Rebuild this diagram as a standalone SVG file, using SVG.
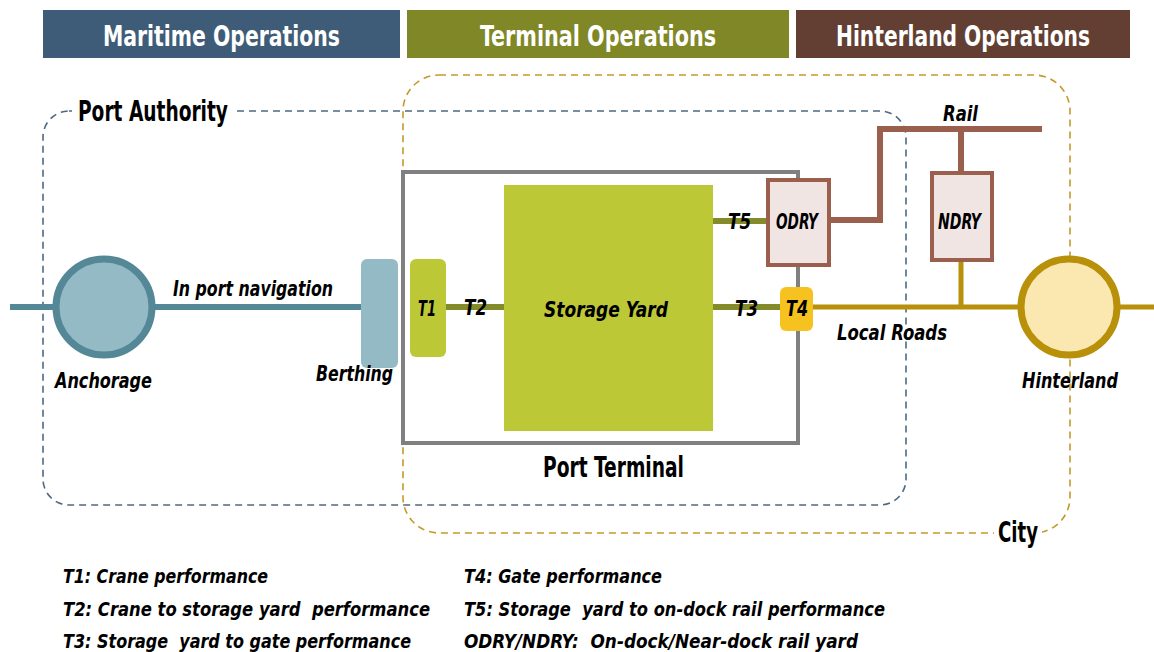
<svg xmlns="http://www.w3.org/2000/svg" width="1154" height="652" viewBox="0 0 1154 652">
<style>
text{font-family:"DejaVu Sans Condensed","DejaVu Sans",sans-serif;font-weight:bold;font-stretch:condensed;}
.hdr{fill:#ffffff;font-size:28px;}
.big{fill:#000;font-size:29px;}
.lab{fill:#000;font-size:22px;font-style:italic;}
.leg{fill:#000;font-size:20px;font-style:italic;}
.dashPA{fill:none;stroke:#4d6a85;stroke-width:1.6;stroke-dasharray:7 5;}
.dashCity{fill:none;stroke:#c49a2a;stroke-width:1.6;stroke-dasharray:7 5;}
</style>
<rect width="1154" height="652" fill="#ffffff"/>

<g id="header-maritime">
<rect x="43" y="10" width="357" height="48" fill="#3e5c78"/>
<text class="hdr" x="103" y="46" textLength="237" lengthAdjust="spacingAndGlyphs">Maritime Operations</text>
</g>
<g id="header-terminal">
<rect x="407" y="10" width="382" height="48" fill="#7f8727"/>
<text class="hdr" x="480" y="46" textLength="236" lengthAdjust="spacingAndGlyphs">Terminal Operations</text>
</g>
<g id="header-hinterland">
<rect x="796" y="10" width="334" height="48" fill="#633f33"/>
<text class="hdr" x="836" y="46" textLength="254" lengthAdjust="spacingAndGlyphs">Hinterland Operations</text>
</g>

<g id="city-region">
<rect class="dashCity" x="403" y="75" width="667" height="458" rx="36" ry="36"/>
<rect x="994" y="516" width="48" height="30" fill="#ffffff"/>
<text class="big" x="998" y="542" textLength="40" lengthAdjust="spacingAndGlyphs">City</text>
</g>

<g id="port-authority-region">
<rect class="dashPA" x="43" y="111" width="863" height="394" rx="26" ry="26"/>
<rect x="72" y="96" width="162" height="30" fill="#ffffff"/>
<text class="big" x="78" y="121" textLength="150" lengthAdjust="spacingAndGlyphs">Port Authority</text>
</g>

<g id="port-terminal">
<rect x="403" y="172" width="395" height="271" fill="none" stroke="#808080" stroke-width="4"/>
<text class="big" x="543" y="477" textLength="141" lengthAdjust="spacingAndGlyphs">Port Terminal</text>
</g>

<g id="connectors">
<line x1="10" y1="307" x2="362" y2="307" stroke="#548896" stroke-width="6"/>
<line x1="446" y1="307" x2="504" y2="307" stroke="#838b2b" stroke-width="6"/>
<line x1="713" y1="307" x2="781" y2="307" stroke="#838b2b" stroke-width="6"/>
<line x1="713" y1="221" x2="767" y2="221" stroke="#838b2b" stroke-width="6"/>
<polyline points="830,220 880,220 880,129 1042,129" fill="none" stroke="#9b5f4d" stroke-width="6"/>
<line x1="961" y1="129" x2="961" y2="173" stroke="#9b5f4d" stroke-width="6"/>
<line x1="812" y1="307" x2="1020" y2="307" stroke="#b8900a" stroke-width="5"/>
<line x1="961" y1="260" x2="961" y2="307" stroke="#b8900a" stroke-width="5"/>
<line x1="1118" y1="307" x2="1154" y2="307" stroke="#b8900a" stroke-width="5"/>
<text class="lab" x="173" y="296" textLength="160" lengthAdjust="spacingAndGlyphs">In port navigation</text>
<text class="lab" x="464" y="315" textLength="23" lengthAdjust="spacingAndGlyphs">T2</text>
<text class="lab" x="735" y="316" textLength="23" lengthAdjust="spacingAndGlyphs">T3</text>
<text class="lab" x="728" y="229" textLength="23" lengthAdjust="spacingAndGlyphs">T5</text>
<text class="lab" x="943" y="121" textLength="35" lengthAdjust="spacingAndGlyphs">Rail</text>
<text class="lab" x="837" y="340" textLength="110" lengthAdjust="spacingAndGlyphs">Local Roads</text>
</g>

<g id="anchorage">
<circle cx="104" cy="307" r="48" fill="#94bac5" stroke="#548896" stroke-width="7"/>
<text class="lab" x="55" y="388" textLength="97" lengthAdjust="spacingAndGlyphs">Anchorage</text>
</g>

<g id="berthing">
<rect x="361" y="259" width="37" height="109" rx="6" ry="6" fill="#94bac5"/>
<text class="lab" x="316" y="381" textLength="77" lengthAdjust="spacingAndGlyphs">Berthing</text>
</g>

<g id="t1">
<rect x="410" y="259" width="36" height="98" rx="6" ry="6" fill="#bdc837"/>
<text class="lab" x="418" y="316" textLength="18" lengthAdjust="spacingAndGlyphs">T1</text>
</g>

<g id="storage-yard">
<rect x="504" y="185" width="209" height="246" fill="#bdc837"/>
<text class="lab" x="544" y="317" textLength="124" lengthAdjust="spacingAndGlyphs">Storage Yard</text>
</g>

<g id="odry">
<rect x="768" y="180" width="61" height="85" fill="#f1e5e4" stroke="#9b5f4d" stroke-width="4"/>
<text class="lab" x="776" y="229" textLength="42" lengthAdjust="spacingAndGlyphs">ODRY</text>
</g>

<g id="t4">
<rect x="780" y="287" width="33" height="44" rx="6" ry="6" fill="#f5c220"/>
<text class="lab" x="786" y="316" textLength="22" lengthAdjust="spacingAndGlyphs">T4</text>
</g>

<g id="ndry">
<rect x="932" y="173" width="60" height="87" fill="#f1e5e4" stroke="#9b5f4d" stroke-width="4"/>
<text class="lab" x="938" y="229" textLength="43" lengthAdjust="spacingAndGlyphs">NDRY</text>
</g>

<g id="hinterland">
<circle cx="1069" cy="307" r="48" fill="#fbe8b0" stroke="#b8900a" stroke-width="7"/>
<text class="lab" x="1022" y="388" textLength="96" lengthAdjust="spacingAndGlyphs">Hinterland</text>
</g>

<g id="legend">
<text class="leg" x="63" y="583" textLength="205" lengthAdjust="spacingAndGlyphs">T1: Crane performance</text>
<text class="leg" x="63" y="616" textLength="367" lengthAdjust="spacingAndGlyphs" xml:space="preserve">T2: Crane to storage yard  performance</text>
<text class="leg" x="63" y="648" textLength="348" lengthAdjust="spacingAndGlyphs" xml:space="preserve">T3: Storage  yard to gate performance</text>
<text class="leg" x="464" y="583" textLength="198" lengthAdjust="spacingAndGlyphs">T4: Gate performance</text>
<text class="leg" x="464" y="616" textLength="421" lengthAdjust="spacingAndGlyphs" xml:space="preserve">T5: Storage  yard to on-dock rail performance</text>
<text class="leg" x="464" y="648" textLength="394" lengthAdjust="spacingAndGlyphs" xml:space="preserve">ODRY/NDRY:  On-dock/Near-dock rail yard</text>
</g>
</svg>
